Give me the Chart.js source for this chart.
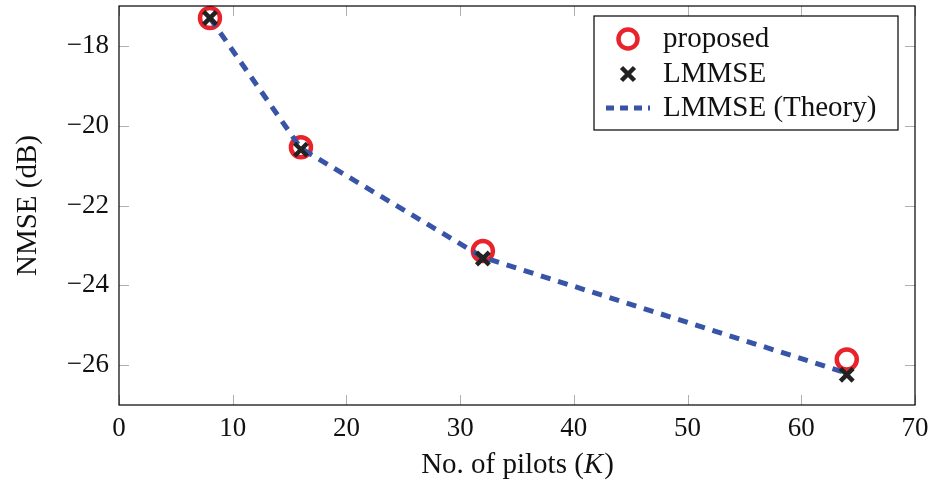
<!DOCTYPE html>
<html>
<head>
<meta charset="utf-8">
<script src="https://cdn.jsdelivr.net/npm/chart.js@4/dist/chart.umd.min.js"></script>
<style>
  html, body { margin: 0; padding: 0; background: #fff; }
  #wrap { width: 933px; height: 487px; }
</style>
</head>
<body>
<div id="wrap"><canvas id="c" width="933" height="487"></canvas></div>
<script>
// ---- data ----
const pilots   = [8, 16, 32, 64];
const proposed = [-17.3, -20.54, -23.14, -25.86];
const lmmse    = [-17.3, -20.6, -23.33, -26.24];
const theory   = [-17.3, -20.57, -23.3, -26.2];
const xTicks = [0, 10, 20, 30, 40, 50, 60, 70];
const yTicks = [-26, -24, -22, -20, -18];
const seriesNames = ['proposed', 'LMMSE', 'LMMSE (Theory)'];
const xTitle = ['No. of pilots (', 'K', ')'];
const yTitle = 'NMSE (dB)';

const FONT = '"Liberation Serif", "DejaVu Serif", serif';
const RED = '#e8232b', BLK = '#222222', BLUE = '#3854a6';

function pts(xs, ys) { return xs.map((x, i) => ({ x: x, y: ys[i] })); }
function fmt(v) { return v < 0 ? '\u2212' + Math.abs(v) : String(v); }

const framePlugin = {
  id: 'frame',
  afterDraw(chart) {
    const { ctx, chartArea: a, scales } = chart;
    ctx.save();
    // inner tick marks
    ctx.strokeStyle = '#b0b0b0';
    ctx.lineWidth = 1;
    const L = 10;
    ctx.beginPath();
    xTicks.forEach(v => {
      const px = Math.round(scales.x.getPixelForValue(v)) + 0.5;
      ctx.moveTo(px, a.bottom); ctx.lineTo(px, a.bottom - L);
      ctx.moveTo(px, a.top); ctx.lineTo(px, a.top + L);
    });
    yTicks.forEach(v => {
      const py = Math.round(scales.y.getPixelForValue(v)) + 0.5;
      ctx.moveTo(a.left, py); ctx.lineTo(a.left + L, py);
      ctx.moveTo(a.right, py); ctx.lineTo(a.right - L, py);
    });
    ctx.stroke();
    // frame
    ctx.strokeStyle = '#000';
    ctx.lineWidth = 1.2;
    ctx.strokeRect(a.left, a.top, a.right - a.left, a.bottom - a.top);

    // axis titles
    ctx.fillStyle = '#111';
    ctx.textBaseline = 'middle';
    const cx = (a.left + a.right) / 2;
    const fN = '29px ' + FONT, fI = 'italic 29px ' + FONT;
    ctx.font = fN; const w0 = ctx.measureText(xTitle[0]).width, w2 = ctx.measureText(xTitle[2]).width;
    ctx.font = fI; const w1 = ctx.measureText(xTitle[1]).width;
    let sx = cx - (w0 + w1 + w2) / 2;
    const ty = 465;
    ctx.textAlign = 'left';
    ctx.font = fN; ctx.fillText(xTitle[0], sx, ty); sx += w0;
    ctx.font = fI; ctx.fillText(xTitle[1], sx, ty); sx += w1 + 1;
    ctx.font = fN; ctx.fillText(xTitle[2], sx, ty);

    ctx.save();
    ctx.translate(28, (a.top + a.bottom) / 2);
    ctx.rotate(-Math.PI / 2);
    ctx.textAlign = 'center';
    ctx.font = fN;
    ctx.fillText(yTitle, 0, 0);
    ctx.restore();

    // legend
    const bx = 594, by = 16, bw = 304, bh = 114;
    ctx.fillStyle = '#fff';
    ctx.fillRect(bx, by, bw, bh);
    ctx.strokeStyle = '#000';
    ctx.lineWidth = 1.2;
    ctx.strokeRect(bx, by, bw, bh);
    const rows = [39, 74, 108];
    const mx = 628;
    // circle
    ctx.beginPath();
    ctx.arc(mx, rows[0], 9.5, 0, Math.PI * 2);
    ctx.fillStyle = '#fff'; ctx.fill();
    ctx.lineWidth = 4.5; ctx.strokeStyle = RED; ctx.stroke();
    // cross
    ctx.beginPath();
    const s = 6.5;
    ctx.moveTo(mx - s, rows[1] - s); ctx.lineTo(mx + s, rows[1] + s);
    ctx.moveTo(mx + s, rows[1] - s); ctx.lineTo(mx - s, rows[1] + s);
    ctx.lineWidth = 4.5; ctx.strokeStyle = BLK; ctx.lineCap = 'butt'; ctx.stroke();
    // dashed line
    ctx.beginPath();
    ctx.setLineDash([8, 6]);
    ctx.moveTo(606, rows[2]); ctx.lineTo(650, rows[2]);
    ctx.lineWidth = 5; ctx.strokeStyle = BLUE; ctx.stroke();
    ctx.setLineDash([]);
    ctx.fillStyle = '#111';
    ctx.font = fN; ctx.textAlign = 'left'; ctx.textBaseline = 'middle';
    seriesNames.forEach((t, i) => ctx.fillText(t, 663, rows[i]));
    ctx.restore();
  }
};

new Chart(document.getElementById('c'), {
  type: 'scatter',
  data: {
    datasets: [
      {
        label: seriesNames[0], data: pts(pilots, proposed), order: 2,
        pointStyle: 'circle', pointRadius: 10, pointBorderWidth: 4.5,
        pointBorderColor: RED, pointBackgroundColor: '#fff', showLine: false,
        clip: false
      },
      {
        label: seriesNames[2], data: pts(pilots, theory), order: 1,
        showLine: true, borderColor: BLUE, borderWidth: 5, borderDash: [10, 8],
        pointRadius: 0, fill: false, tension: 0, clip: false
      },
      {
        label: seriesNames[1], data: pts(pilots, lmmse), order: 0,
        pointStyle: 'crossRot', pointRadius: 9, pointBorderWidth: 4.5,
        pointBorderColor: BLK, pointBackgroundColor: BLK, showLine: false,
        clip: false
      }
    ]
  },
  options: {
    responsive: false,
    animation: false,
    layout: { autoPadding: false, padding: { left: 0, right: 18, top: 6, bottom: 0 } },
    plugins: { legend: { display: false }, tooltip: { enabled: false } },
    scales: {
      x: {
        type: 'linear', min: 0, max: 70,
        afterBuildTicks: s => { s.ticks = xTicks.map(v => ({ value: v })); },
        afterFit: s => { s.height = 82; s.paddingLeft = 0; s.paddingRight = 0; },
        grid: { display: false, drawTicks: false },
        border: { display: false },
        ticks: { padding: 8, color: '#111', font: { family: FONT, size: 27 }, callback: v => fmt(v), maxRotation: 0 }
      },
      y: {
        type: 'linear', min: -27, max: -17,
        afterBuildTicks: s => { s.ticks = yTicks.map(v => ({ value: v })); },
        afterFit: s => { s.width = 119; s.paddingTop = 0; s.paddingBottom = 0; },
        grid: { display: false, drawTicks: false },
        border: { display: false },
        ticks: { padding: 10, color: '#111', font: { family: FONT, size: 27, lineHeight: 0.4 }, callback: v => fmt(v) }
      }
    }
  },
  plugins: [framePlugin]
});
</script>
</body>
</html>
